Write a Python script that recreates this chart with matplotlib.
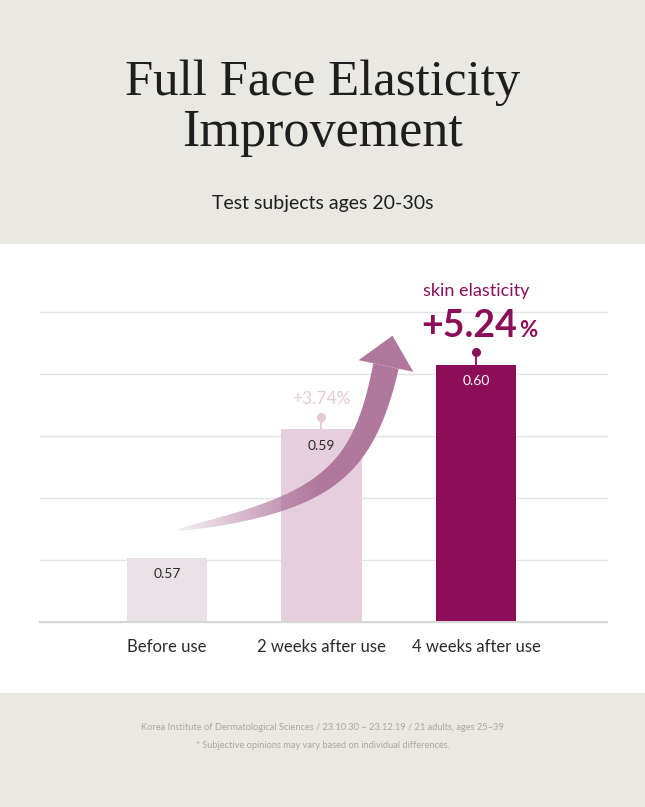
import numpy as np
import matplotlib
matplotlib.use("Agg")
import matplotlib.pyplot as plt
from matplotlib.patches import Rectangle, Polygon
from matplotlib.colors import to_rgb

# ---------------- data ----------------
categories = ["Before use", "2 weeks after use", "4 weeks after use"]
values = [0.57, 0.59, 0.60]
value_labels = ["0.57", "0.59", "0.60"]
gains = [None, "+3.74", "+5.24"]
title_lines = ["Full Face Elasticity", "Improvement"]
subtitle = "Test subjects ages 20-30s"
highlight_label = "skin elasticity"
footer_lines = [
    "Korea Institute of Dermatological Sciences / 23.10.30 ~ 23.12.19 / 21 adults, ages 25~39",
    "* Subjective opinions may vary based on individual differences.",
]

# ---------------- style ----------------
W, H = 645, 807
GRAY = "#EAE8E3"
BAR_COLORS = ["#E8E2E7", "#E6CFDD", "#8C0D58"]
LABEL_COLORS = ["#2A2A2A", "#2A2A2A", "#FFFFFF"]
GAIN_COLORS = [None, "#E3C8D7", "#8C0D58"]
ARROW = "#B1789E"
SANS = ["Lato", "DejaVu Sans"]
SERIF = ["Liberation Serif", "DejaVu Serif"]
PX = 72 / 100.0  # points per pixel

fig = plt.figure(figsize=(W / 100, H / 100), dpi=100)
fig.patch.set_facecolor("white")


def fy(y):
    return 1 - y / H


def fx(x):
    return x / W


# background bands
fig.add_artist(Rectangle((0, fy(244)), 1, 244 / H, transform=fig.transFigure,
                         facecolor=GRAY, edgecolor="none", zorder=-5))
fig.add_artist(Rectangle((0, 0), 1, (H - 693) / H, transform=fig.transFigure,
                         facecolor=GRAY, edgecolor="none", zorder=-5))

# titles
fig.text(0.5, fy(95), title_lines[0], ha="center", va="baseline",
         family=SERIF, fontsize=36.5, color="#1E1E1E")
fig.text(0.5, fy(146), title_lines[1], ha="center", va="baseline",
         family=SERIF, fontsize=37.5, color="#1E1E1E")
fig.text(0.5, fy(209.5), subtitle, ha="center", va="baseline",
         family=SANS, fontsize=14, color="#1E1E1E")

# footer
fig.text(0.5, fy(728), footer_lines[0], ha="center", va="center",
         family=SANS, fontsize=6.7, color="#A9A7A2")
fig.text(0.5, fy(745), footer_lines[1], ha="center", va="center",
         family=SANS, fontsize=6.7, color="#A9A7A2")

# ---------------- main chart ----------------
base_y, top_y = 621.7, 311.7
ax = fig.add_axes([fx(40), fy(base_y), (606.7 - 40) / W, (base_y - top_y) / H])
ax.set_facecolor("none")

x = np.arange(len(categories))
ymin = 0.56
ymax = ymin + (base_y - top_y) / 6420.0
ax.set_ylim(ymin, ymax)
ax.set_xlim(-0.822, 2.846)

ax.set_yticks(np.linspace(ymin, ymax, 6))
ax.yaxis.grid(True, color="#E3E3E3", linewidth=1.0)
for gl in ax.get_ygridlines():
    gl.set_clip_on(False)
ax.set_axisbelow(True)
ax.tick_params(left=False, labelleft=False, bottom=False)
for s in ["left", "right", "top"]:
    ax.spines[s].set_visible(False)
ax.spines["bottom"].set_color("#D6D6D6")
ax.spines["bottom"].set_linewidth(1.5)

ax.bar(x, values, width=0.518, color=BAR_COLORS, zorder=2)

ax.set_xticks(x, categories)
for lab in ax.get_xticklabels():
    lab.set_family(SANS)
    lab.set_fontsize(12)
    lab.set_color("#2A2A2A")
ax.tick_params(axis="x", pad=9)

for i, (v, lab) in enumerate(zip(values, value_labels)):
    ax.annotate(lab, (i, v), xytext=(0, -16.5 * PX), textcoords="offset points",
                ha="center", va="center", family=SANS, fontsize=10,
                color=LABEL_COLORS[i], zorder=4)

# pins and gains
for i, g in enumerate(gains):
    if g is None:
        continue
    c = GAIN_COLORS[i]
    v = values[i]
    pin_h = 12.5 / 6420.0
    ax.plot([i, i], [v, v + pin_h], color=c, lw=1.3, clip_on=False, zorder=3,
            solid_capstyle="butt")
    ax.plot([i], [v + pin_h], marker="o", ms=5.5, color=c, clip_on=False, zorder=3)

# +3.74%
ax.annotate(gains[1] + "%", (1, values[1]), xytext=(0, 30 * PX), textcoords="offset points",
            ha="center", va="center", family=SANS, fontsize=12.5, color=GAIN_COLORS[1])

# +5.24% with smaller percent sign
ax.annotate(gains[2], (2, values[2]), xytext=(41 * PX, 28 * PX), textcoords="offset points",
            ha="right", va="baseline", family=SANS, fontsize=27, fontweight="bold",
            color=GAIN_COLORS[2])
ax.annotate("%", (2, values[2]), xytext=(43 * PX, 28 * PX), textcoords="offset points",
            ha="left", va="baseline", family=SANS, fontsize=16, fontweight="bold",
            color=GAIN_COLORS[2])
ax.annotate(highlight_label, (2, values[2]), xytext=(0, 68.5 * PX), textcoords="offset points",
            ha="center", va="baseline", family=SANS, fontsize=13, color=GAIN_COLORS[2])

# ---------------- decorative arrow (pixel overlay) ----------------
ov = fig.add_axes([0, 0, 1, 1], zorder=5)
ov.set_facecolor("none")
ov.axis("off")

P0 = np.array([178.0, 530.0])
P1 = np.array([325.0, 503.0])
P2 = np.array([363.0, 474.0])
P3 = np.array([386.0, 366.0])
t = np.linspace(0, 1, 300)[:, None]
B = (1 - t) ** 3 * P0 + 3 * (1 - t) ** 2 * t * P1 + 3 * (1 - t) * t ** 2 * P2 + t ** 3 * P3
dB = 3 * (1 - t) ** 2 * (P1 - P0) + 6 * (1 - t) * t * (P2 - P1) + 3 * t ** 2 * (P3 - P2)
T = dB / np.linalg.norm(dB, axis=1, keepdims=True)
N = np.column_stack([-T[:, 1], T[:, 0]])
w = 26 * np.sqrt(t[:, 0])
left = B + N * (w[:, None] / 2)
right = B - N * (w[:, None] / 2)
shaft = np.vstack([left, right[::-1]])
clip = Polygon(shaft, closed=True, facecolor="none", edgecolor="none")
ov.add_patch(clip)

xs = np.linspace(170, 420, 500)
alpha = np.clip(0.12 + (xs - 178) / (320 - 178) * 0.88, 0, 1)
img = np.zeros((2, xs.size, 4))
img[..., :3] = to_rgb(ARROW)
img[..., 3] = alpha
im = ov.imshow(img, extent=(170, 420, 545, 320), aspect="auto",
               interpolation="bilinear", zorder=5)
im.set_clip_path(clip)

# head
Tend = T[-1]
Nend = N[-1]
base_c = B[-1]
head = np.array([base_c + Nend * 28, base_c + Tend * 31, base_c - Nend * 28])
ov.add_patch(Polygon(head, closed=True, facecolor=ARROW, edgecolor="none", zorder=6))

ov.set_xlim(0, W)
ov.set_ylim(H, 0)

fig.savefig("out.png", dpi=100)
